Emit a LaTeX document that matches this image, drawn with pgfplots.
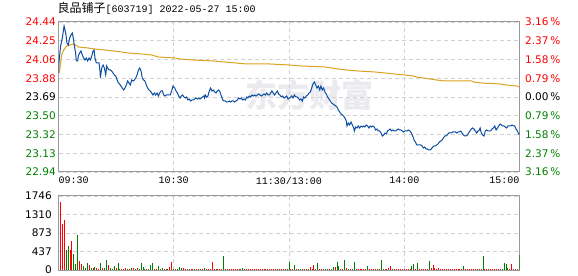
\documentclass[border=0pt]{standalone}
\usepackage{pgfplots}
\pgfplotsset{compat=1.18}
\usepackage{pgfplotstable}
\usepackage{fontspec}
\setmainfont{DejaVu Sans}
\newfontfamily\cjk{Noto Sans CJK SC}
\newfontfamily\mono{Liberation Mono}
\definecolor{priceblue}{RGB}{12,78,162}
\definecolor{avgorange}{RGB}{218,162,30}
\definecolor{upred}{RGB}{255,0,0}
\definecolor{downgreen}{RGB}{0,128,0}
\definecolor{framegray}{RGB}{155,155,155}
\definecolor{gridgray}{RGB}{210,210,210}
\definecolor{wmgray}{RGB}{234,234,239}

\pgfplotstableread{
m p
0 23.93
0.3 24.05
1.1 24.20
2.0 24.28
2.9 24.40
3.4 24.36
3.9 24.31
4.4 24.23
5.1 24.21
5.8 24.28
6.5 24.31
7.2 24.33
7.7 24.28
8.2 24.21
8.9 24.13
9.3 24.05
10.0 24.05
10.3 24.10
11.0 24.13
11.7 24.15
12.4 24.11
13.1 24.08
13.8 24.06
14.5 24.08
15.2 24.05
15.9 24.08
16.6 24.06
17.3 24.10
18.0 24.15
18.5 24.16
19.0 24.08
19.7 24.03
20.4 24.03
21.1 24.03
21.6 23.95
21.8 23.88
22.5 23.98
23.2 24.01
23.9 23.98
24.6 23.91
25.1 24.00
25.6 23.98
26.3 23.96
27.0 23.96
27.7 23.95
28.4 23.93
29.1 23.91
29.8 23.90
30.5 23.86
31.2 23.83
31.8 23.82
32.5 23.80
33.2 23.78
33.9 23.76
34.6 23.78
35.3 23.81
36.0 23.85
36.7 23.83
37.4 23.81
38.1 23.86
38.8 23.85
39.5 23.86
40.2 23.88
40.9 23.91
41.6 23.96
42.3 23.98
43.0 23.95
43.6 23.88
44.3 23.86
45.0 23.85
45.7 23.81
46.4 23.78
47.1 23.76
47.8 23.75
48.5 23.73
49.2 23.71
49.9 23.73
50.6 23.71
51.3 23.73
52.0 23.70
52.7 23.73
53.4 23.75
54.1 23.75
54.8 23.71
55.4 23.70
56.1 23.71
56.8 23.71
57.5 23.71
58.2 23.71
58.9 23.75
59.6 23.80
60.5 23.78
61.2 23.75
61.9 23.73
62.6 23.70
63.3 23.68
63.9 23.70
64.6 23.71
65.3 23.69
66.0 23.68
66.7 23.69
67.4 23.66
68.1 23.67
68.8 23.65
69.5 23.66
70.2 23.66
70.9 23.67
71.6 23.68
72.3 23.67
73.0 23.68
73.7 23.67
74.4 23.68
75.0 23.69
75.7 23.70
76.1 23.68
76.4 23.71
77.1 23.69
77.8 23.70
78.5 23.75
79.2 23.78
79.9 23.75
80.6 23.76
81.3 23.74
82.0 23.73
82.7 23.75
83.4 23.76
84.1 23.74
84.8 23.70
85.5 23.66
86.2 23.65
86.8 23.65
87.5 23.64
88.2 23.64
88.9 23.65
89.6 23.64
90.3 23.65
91.0 23.65
91.7 23.64
92.4 23.65
93.1 23.66
93.8 23.68
94.5 23.67
95.2 23.68
95.9 23.66
96.6 23.67
97.3 23.66
98.0 23.69
98.6 23.68
99.3 23.70
100.0 23.69
100.7 23.71
101.4 23.70
102.1 23.71
102.8 23.70
103.5 23.71
104.2 23.72
104.9 23.71
105.6 23.70
106.3 23.71
107.0 23.72
107.7 23.71
108.4 23.73
109.1 23.71
109.8 23.71
110.4 23.73
111.1 23.75
111.8 23.73
112.5 23.71
113.2 23.73
113.9 23.75
114.6 23.72
115.3 23.71
116.0 23.69
116.7 23.70
117.4 23.68
118.1 23.69
118.8 23.70
119.5 23.67
120.2 23.68
120.5 23.68
121.4 23.70
122.1 23.68
122.8 23.71
123.5 23.69
124.2 23.69
124.8 23.68
125.5 23.66
126.2 23.67
126.9 23.65
127.6 23.69
128.3 23.68
129.0 23.70
129.7 23.71
130.4 23.73
131.1 23.74
131.8 23.78
132.5 23.82
133.2 23.84
133.9 23.81
134.6 23.78
135.3 23.80
136.0 23.76
136.6 23.80
137.3 23.76
138.0 23.78
138.7 23.74
139.4 23.72
140.1 23.69
140.8 23.67
141.5 23.65
142.2 23.63
142.9 23.62
143.6 23.61
144.3 23.60
145.0 23.59
145.7 23.56
146.4 23.54
147.1 23.52
147.8 23.51
148.4 23.50
149.1 23.48
149.8 23.45
150.2 23.40
150.9 23.43
151.6 23.41
152.3 23.44
153.0 23.41
153.7 23.38
154.0 23.35
154.7 23.39
155.4 23.38
156.1 23.40
156.8 23.38
157.5 23.40
158.2 23.39
158.9 23.40
159.5 23.39
160.2 23.41
160.9 23.40
161.6 23.38
162.3 23.40
163.0 23.39
163.7 23.40
164.4 23.39
165.1 23.36
165.8 23.37
166.5 23.35
167.2 23.35
167.9 23.33
168.6 23.30
169.3 23.31
170.0 23.33
170.7 23.32
171.3 23.35
172.0 23.36
172.7 23.37
173.4 23.35
174.1 23.36
174.8 23.35
175.5 23.35
176.2 23.36
176.9 23.37
177.6 23.36
178.3 23.36
179.0 23.35
179.7 23.34
180.4 23.35
181.3 23.35
182.1 23.36
183.0 23.35
183.7 23.33
184.4 23.30
185.1 23.26
185.8 23.24
186.5 23.21
187.2 23.21
187.9 23.21
188.6 23.21
189.3 23.20
189.9 23.18
190.6 23.19
191.3 23.17
192.0 23.17
192.7 23.16
193.4 23.16
194.1 23.17
194.8 23.19
195.5 23.20
196.2 23.20
196.9 23.21
197.6 23.22
198.3 23.24
199.0 23.25
199.7 23.26
200.4 23.28
201.1 23.30
201.7 23.30
202.4 23.31
203.1 23.33
203.8 23.33
204.5 23.33
205.2 23.34
205.9 23.34
206.6 23.34
207.3 23.33
208.0 23.34
208.7 23.34
209.4 23.35
210.1 23.33
210.8 23.31
211.5 23.30
212.2 23.30
212.9 23.31
213.5 23.33
214.2 23.35
214.9 23.37
215.6 23.38
216.3 23.37
217.0 23.35
217.7 23.33
218.4 23.35
219.1 23.36
219.5 23.38
220.1 23.33
220.8 23.31
221.5 23.30
222.2 23.35
222.9 23.36
223.6 23.35
224.3 23.35
225.0 23.35
225.7 23.37
226.4 23.38
227.1 23.40
227.8 23.36
228.5 23.38
229.2 23.40
229.9 23.42
230.6 23.41
231.2 23.40
231.9 23.40
232.6 23.39
233.3 23.38
234.0 23.40
234.7 23.40
235.4 23.40
236.1 23.41
236.8 23.40
237.5 23.40
238.2 23.37
238.9 23.35
239.6 23.32
240 23.33
}\pricetable

\pgfplotstableread{
m a
0.3 23.93
0.6 23.95
1.6 24.11
2.7 24.16
4.3 24.20
6.0 24.21
7.7 24.22
8.9 24.21
10.3 24.19
15.5 24.18
19.0 24.17
24.2 24.16
28.5 24.15
32.9 24.14
36.3 24.13
43.3 24.12
48.5 24.11
52.0 24.09
60.6 24.08
63.2 24.07
70.2 24.06
80.6 24.05
86.7 24.04
97.9 24.02
110.1 24.02
120.2 24.01
126.6 24.00
138.7 23.99
145.7 23.97
150.0 23.96
156.1 23.95
164.8 23.94
175.2 23.92
180.4 23.91
184.7 23.90
186.5 23.89
190.0 23.88
193.4 23.87
196.9 23.86
201.2 23.85
215.1 23.85
216.0 23.84
220.3 23.83
229.9 23.82
233.3 23.81
238.5 23.80
240 23.79
}\avgtable

\pgfplotstableread{
m v
1 1612
2 1093
3 1188
6 480
7 692
11 220
12 149
16 126
18 39
20 39
21 31
23 55
26 126
30 39
33 31
34 31
35 55
37 31
39 55
41 55
46 31
50 31
51 31
55 31
57 31
58 79
59 181
61 31
65 55
66 31
67 31
69 31
70 31
72 31
73 31
75 31
77 31
78 31
79 31
80 181
81 31
82 31
84 31
85 31
88 31
89 31
90 31
91 31
92 31
93 31
94 31
97 31
98 31
99 31
100 31
101 31
102 31
103 31
104 31
105 31
106 31
107 31
108 31
110 31
111 31
112 31
113 31
114 31
116 31
117 31
118 31
121 31
122 31
124 31
127 31
129 31
130 31
131 79
133 126
134 31
136 31
137 31
138 31
141 31
144 79
147 31
148 31
150 55
152 31
155 31
156 31
157 31
158 31
159 31
160 31
162 31
163 31
164 31
165 31
166 31
170 31
171 31
172 55
173 102
175 31
176 31
177 31
178 31
179 31
180 31
181 31
182 31
183 31
186 31
188 31
189 31
190 31
191 31
192 31
194 55
195 126
196 55
197 31
198 39
199 31
200 31
201 31
202 31
203 31
204 31
205 31
206 31
207 31
208 31
209 31
210 31
212 31
213 31
214 31
215 31
216 31
217 31
218 31
220 31
222 31
223 31
224 31
225 31
226 31
227 31
228 31
229 31
230 31
235 31
236 149
238 31
239 31
}\redvol

\pgfplotstableread{
m v
4 464
5 574
8 385
9 149
10 834
13 102
14 39
15 173
17 55
19 79
22 173
24 39
25 244
27 55
28 31
29 102
31 173
32 31
36 31
38 47
40 31
42 31
43 173
44 79
45 31
47 31
48 126
49 173
52 102
53 31
54 39
56 31
60 31
62 31
63 79
64 47
68 31
71 31
74 31
76 55
83 31
86 338
87 31
95 31
96 55
109 31
115 31
119 31
120 197
123 126
125 31
126 31
128 31
132 31
135 173
139 31
140 31
142 31
143 79
145 197
146 102
149 244
151 31
153 31
154 197
161 102
167 31
168 244
169 31
174 31
184 102
185 149
187 173
193 220
211 102
219 31
221 338
231 31
232 173
233 149
234 55
237 31
240 362
}\greenvol

\pgfplotsset{
  chartbase/.style={
    scale only axis, anchor=south west,
    width=461bp,
    xmin=0, xmax=240,
    axis line style={framegray, line width=1bp},
    grid=major,
    major grid style={gridgray, line width=0.9bp, dash pattern=on 4bp off 3bp},
    major tick length=0pt,
    tick style={draw=none},
    every tick label/.append style={inner sep=0pt, font=\fontsize{10.5bp}{12bp}\selectfont},
    /pgf/number format/assume math mode=true,
  }
}

\begin{document}
\begin{tikzpicture}
\useasboundingbox (0,0) rectangle (578bp,276bp);

\node[anchor=west, inner sep=0pt] at (57.5bp,267.5bp)
  {{\cjk\fontsize{12bp}{14bp}\selectfont 良品铺子}{\mono\fontsize{10bp}{12bp}\selectfont[603719] 2022-05-27 15:00}};

\node[text=wmgray, inner sep=0pt, font=\cjk\bfseries\fontsize{32bp}{34bp}\selectfont] at (309bp,181bp) {东方财富};

% main price panel
\begin{axis}[chartbase,
  at={(58.5bp,104bp)}, height=150bp,
  ymin=22.94, ymax=24.44,
  xtick={0,60,120,180,240},
  xticklabels={\makebox[0pt][l]{09:30},10:30,11:30/13:00,14:00,\makebox[0pt][r]{15:00}},
  xticklabel style={anchor=north, font=\mono\fontsize{10bp}{12bp}\selectfont},
  xticklabel shift=5bp,
  ytick={22.94,23.1275,23.315,23.5025,23.69,23.8775,24.065,24.2525,24.44},
  yticklabels={{\color{downgreen}22.94},{\color{downgreen}23.13},{\color{downgreen}23.32},{\color{downgreen}23.50},{\color{black}23.69},{\color{upred}23.88},{\color{upred}24.06},{\color{upred}24.25},{\color{upred}24.44}},
  yticklabel style={anchor=east},
  yticklabel shift=2.5bp,
]
\addplot[avgorange, line width=1bp] table[x=m, y=a] {\avgtable};
\addplot[priceblue, line width=1bp] table[x=m, y=p] {\pricetable};
\end{axis}

% right percentage labels
\begin{axis}[
  scale only axis, anchor=south west,
  at={(58.5bp,104bp)}, width=461bp, height=150bp,
  xmin=0, xmax=240, ymin=22.94, ymax=24.44,
  hide x axis,
  axis line style={draw=none},
  major tick length=0pt, tick style={draw=none},
  ytick={22.94,23.1275,23.315,23.5025,23.69,23.8775,24.065,24.2525,24.44},
  yticklabel pos=right,
  yticklabels={{\color{downgreen}3.16\,\%},{\color{downgreen}2.37\,\%},{\color{downgreen}1.58\,\%},{\color{downgreen}0.79\,\%},{\color{black}0.00\,\%},{\color{upred}0.79\,\%},{\color{upred}1.58\,\%},{\color{upred}2.37\,\%},{\color{upred}3.16\,\%}},
  yticklabel style={anchor=west, inner sep=0pt, font=\fontsize{10.5bp}{12bp}\selectfont},
  yticklabel shift=5.5bp,
]
\addplot[draw=none] coordinates {(0,23.69)};
\end{axis}

% volume panel
\begin{axis}[chartbase,
  at={(58.5bp,6bp)}, height=74bp,
  ymin=0, ymax=1746,
  xtick={0,60,120,180,240},
  xticklabels={,,,,},
  ytick={0,436.5,873,1309.5,1746},
  yticklabels={0,437,873,1310,1746},
  yticklabel style={anchor=east, text=black},
  yticklabel shift=6.5bp,
]
\addplot[ycomb, no marks, upred, line width=1bp] table[x=m, y=v] {\redvol};
\addplot[ycomb, no marks, downgreen, line width=1bp] table[x=m, y=v] {\greenvol};
\end{axis}
\end{tikzpicture}
\end{document}
